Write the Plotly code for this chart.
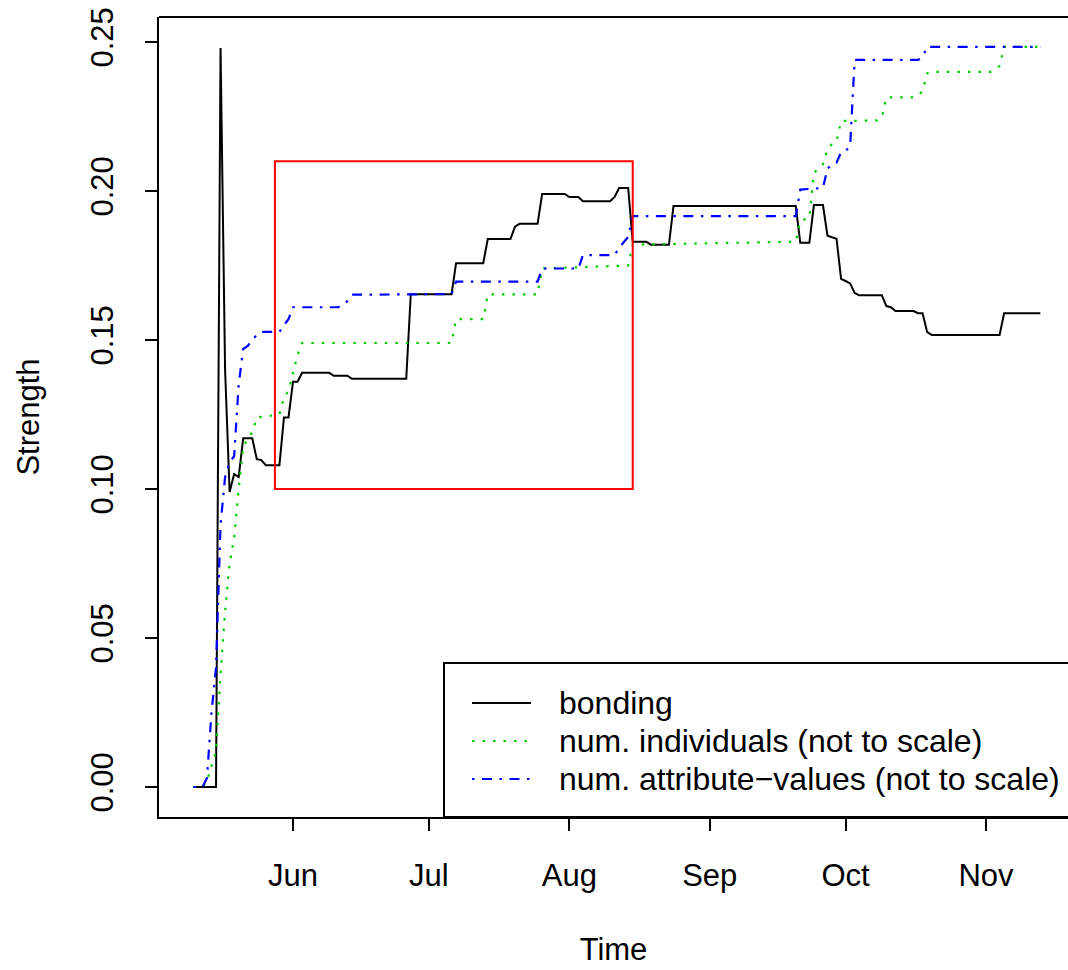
import plotly.graph_objects as go

# ---------------- data ----------------
YEAR = "2007"

bond_dates = ["05-10", "05-15", "05-16", "05-17", "05-18", "05-19", "05-20", "05-21", "05-23",
              "05-24", "05-25", "05-26", "05-29", "05-30", "05-31", "06-01", "06-02", "06-03",
              "06-09", "06-10", "06-13", "06-14", "06-26", "06-27", "07-06", "07-07", "07-13",
              "07-14", "07-19", "07-20", "07-21", "07-25", "07-26", "07-31", "08-01", "08-03",
              "08-04", "08-10", "08-11", "08-12", "08-14", "08-15", "08-18", "08-19", "08-23",
              "08-24", "09-20", "09-21", "09-23", "09-24", "09-26", "09-27", "09-29", "09-30",
              "10-01", "10-02", "10-03", "10-04", "10-09", "10-10", "10-11", "10-12", "10-16",
              "10-17", "10-18", "10-19", "10-20", "11-04", "11-05", "11-13"]
bond_vals = [0.0, 0.0, 0.248, 0.140, 0.099, 0.105, 0.104, 0.117, 0.117,
             0.110, 0.1097, 0.108, 0.108, 0.124, 0.124, 0.136, 0.136, 0.139,
             0.139, 0.138, 0.138, 0.137, 0.137, 0.1654, 0.1654, 0.1758, 0.1758,
             0.1839, 0.1839, 0.188, 0.189, 0.189, 0.199, 0.199, 0.198, 0.198,
             0.1966, 0.1966, 0.198, 0.201, 0.201, 0.183, 0.183, 0.182, 0.182,
             0.195, 0.195, 0.1826, 0.1826, 0.1953, 0.1953, 0.185, 0.184, 0.1705,
             0.1698, 0.169, 0.1658, 0.165, 0.165, 0.1614, 0.161, 0.1597, 0.1597,
             0.159, 0.159, 0.1527, 0.1517, 0.1517, 0.159, 0.159]

indiv_dates = ["05-10", "05-12", "05-13", "05-14", "05-15", "05-16", "05-17", "05-18", "05-19",
               "05-20", "05-21", "05-22", "05-23", "05-24", "05-29", "05-30", "05-31", "06-01",
               "06-02", "06-03", "07-06", "07-07", "07-13", "07-14", "07-25", "07-26", "08-14",
               "08-15", "09-20", "09-21", "09-23", "09-24", "09-25", "09-26", "09-27", "09-28",
               "09-29", "09-30", "10-08", "10-09", "10-10", "10-16", "10-17", "10-18", "10-19",
               "10-20", "11-02", "11-03", "11-04", "11-05", "11-13"]
indiv_vals = [0.0, 0.0, 0.002, 0.007, 0.012, 0.038, 0.0587, 0.075, 0.0836,
              0.100, 0.114, 0.117, 0.119, 0.124, 0.125, 0.1305, 0.133, 0.139,
              0.145, 0.149, 0.149, 0.157, 0.157, 0.1653, 0.1653, 0.174, 0.175,
              0.182, 0.183, 0.190, 0.191, 0.206, 0.2075, 0.209, 0.214, 0.2158,
              0.2166, 0.2235, 0.2237, 0.2245, 0.2314, 0.2314, 0.232, 0.2336, 0.2395,
              0.240, 0.240, 0.2408, 0.242, 0.2484, 0.2484]

attr_dates = ["05-10", "05-12", "05-13", "05-14", "05-15", "05-16", "05-17", "05-18", "05-19",
              "05-20", "05-21", "05-22", "05-23", "05-24", "05-25", "05-29", "05-30", "05-31",
              "06-01", "06-11", "06-12", "06-13", "06-14", "07-06", "07-07", "07-25", "07-26",
              "08-03", "08-04", "08-11", "08-12", "08-13", "08-14", "08-15", "09-20", "09-21",
              "09-26", "09-27", "09-28", "09-29", "09-30", "10-01", "10-02", "10-03", "10-17",
              "10-18", "10-19", "11-13"]
attr_vals = [0.0, 0.0, 0.003, 0.025, 0.040, 0.088, 0.104, 0.109, 0.111,
             0.135, 0.147, 0.148, 0.150, 0.1517, 0.1527, 0.1527, 0.155, 0.157,
             0.161, 0.161, 0.162, 0.163, 0.1652, 0.1654, 0.1696, 0.1696, 0.174,
             0.174, 0.1785, 0.1785, 0.181, 0.183, 0.1846, 0.1916, 0.1916, 0.2005,
             0.201, 0.2075, 0.209, 0.2095, 0.213, 0.2135, 0.215, 0.244, 0.244,
             0.245, 0.2484, 0.2484]

series_names = ["bonding", "num. individuals (not to scale)", "num. attribute\u2212values (not to scale)"]

month_ticks = ["06-01", "07-01", "08-01", "09-01", "10-01", "11-01"]
month_labels = ["Jun", "Jul", "Aug", "Sep", "Oct", "Nov"]
y_ticks = [0.0, 0.05, 0.10, 0.15, 0.20, 0.25]

highlight_dates = ["05-28", "08-15"]
highlight_vals = [0.10, 0.21]

x_range = ["05-02 09:50", "11-19 02:30"]
y_range = [-0.01007, 0.2584]


def d(s):
    return YEAR + "-" + s


# ---------------- layout geometry (pixels) ----------------
W, H = 1068, 970
L, T, B = 159, 17, 817
PW, PH = W - L, B - T


def px(x):
    return (x - L) / PW


def py(y):
    return (B - y) / PH


FONT = "Liberation Sans, Arial, Helvetica, sans-serif"
FS = 31
GREEN = "#00CD00"
BLUE = "#0000FF"
styles = [
    dict(color="black", width=2),
    dict(color=GREEN, width=2.2, dash="2.5px,8px"),
    dict(color=BLUE, width=2.2, dash="2.5px,7.5px,10px,7.5px"),
]

fig = go.Figure()
for name, xs, ys, st in zip(series_names,
                            [bond_dates, indiv_dates, attr_dates],
                            [bond_vals, indiv_vals, attr_vals], styles):
    fig.add_trace(go.Scatter(x=[d(v) for v in xs], y=ys, mode="lines", name=name,
                             line=st, showlegend=False, hoverinfo="skip"))

# red highlight rectangle
fig.add_shape(type="rect", xref="x", yref="y",
              x0=d(highlight_dates[0]), x1=d(highlight_dates[1]),
              y0=highlight_vals[0], y1=highlight_vals[1],
              line=dict(color="red", width=2), fillcolor="rgba(0,0,0,0)")

# top border of the plot box
fig.add_shape(type="line", xref="paper", yref="paper", x0=0, x1=1.02, y0=1, y1=1,
              line=dict(color="black", width=2))

# legend box (bottom-right, extends past the cropped right edge)
fig.add_shape(type="rect", xref="paper", yref="paper",
              x0=px(444), x1=1.05, y0=0, y1=py(663),
              line=dict(color="black", width=2), fillcolor="white", layer="below")
rows = [703, 741, 779]
for name, st, yy in zip(series_names, styles, rows):
    fig.add_shape(type="line", xref="paper", yref="paper",
                  x0=px(472), x1=px(531), y0=py(yy), y1=py(yy), line=st)
    fig.add_annotation(xref="paper", yref="paper", x=px(557), y=py(yy), text=name,
                       showarrow=False, xanchor="left", yanchor="middle",
                       font=dict(family=FONT, size=32, color="black"))

fig.update_layout(
    width=W, height=H,
    margin=dict(l=L, r=0, t=T, b=H - B, pad=0),
    paper_bgcolor="white", plot_bgcolor="white",
    font=dict(family=FONT, size=FS, color="black"),
    showlegend=False,
)
fig.update_xaxes(
    range=[d(v) for v in x_range], tickvals=[d(v) for v in month_ticks], ticktext=month_labels,
    ticks="outside", ticklen=12, tickwidth=2, tickcolor="black",
    showline=True, linewidth=2, linecolor="black", showgrid=False, zeroline=False,
    title=dict(text="Time", standoff=46, font=dict(family=FONT, size=FS, color="black")),
    automargin=False, ticklabelstandoff=18,
)
fig.update_yaxes(
    range=y_range, tickvals=y_ticks, tickformat=".2f", tickangle=-90,
    ticks="outside", ticklen=12, tickwidth=2, tickcolor="black",
    showline=True, linewidth=2, linecolor="black", showgrid=False, zeroline=False,
    title=dict(text="Strength", standoff=36, font=dict(family=FONT, size=FS, color="black")),
    automargin=False, ticklabelstandoff=20,
)

fig.write_html("out.html")
